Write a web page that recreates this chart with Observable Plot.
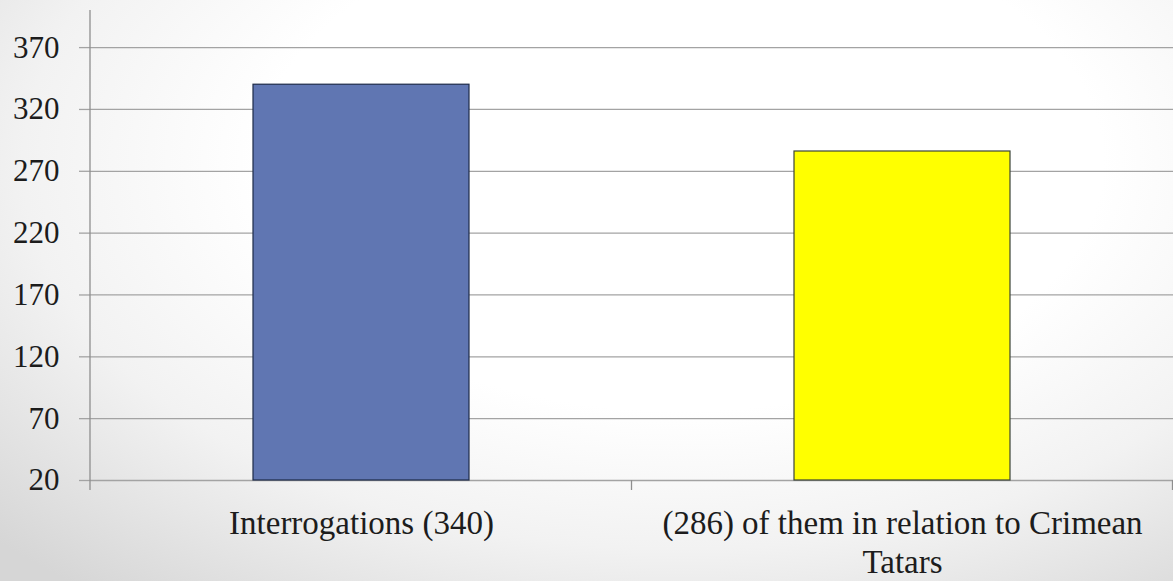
<!DOCTYPE html>
<html>
<head>
<meta charset="utf-8">
<script src="https://cdn.jsdelivr.net/npm/d3@7"></script>
<script src="https://cdn.jsdelivr.net/npm/@observablehq/plot@0.6"></script>
<style>
  html, body { margin: 0; padding: 0; }
  body {
    width: 1173px;
    height: 581px;
    overflow: hidden;
    background: radial-gradient(ellipse 80% 95% at 58% 28%, #ffffff 45%, #f2f2f2 70%, #d6d6d6 100%);
  }
  #chart svg { display: block; }
</style>
</head>
<body>
<div id="chart"></div>
<script>
// Counts shown as bars
const categories = ["Interrogations (340)", "(286) of them in relation to Crimean Tatars"];
const values = [340, 286];
const barFills = ["#6076b2", "#ffff00"];
const barStrokes = ["#1d2a48", "#3b4438"];
const xTickLabels = ["Interrogations (340)", "(286) of them in relation to Crimean\nTatars"];
const yTicks = [20, 70, 120, 170, 220, 270, 320, 370];
const yBase = 20;
const yMax = 400;

const data = categories.map((c, i) => ({category: c, value: values[i], fill: barFills[i], stroke: barStrokes[i]}));

const gridColor = "#a3a3a3";
const axisColor = "#8e8e8e";
const textColor = "#1c1c1c";

const plot = Plot.plot({
  width: 1173,
  height: 581,
  marginLeft: 90,
  marginRight: 0,
  marginTop: 10,
  marginBottom: 101,
  style: {fontFamily: "'Liberation Serif', serif", background: "transparent", color: textColor},
  x: {domain: categories, paddingInner: 0.6, paddingOuter: 0.3, label: null},
  y: {domain: [yBase, yMax], label: null},
  marks: [
    Plot.gridY(yTicks, {stroke: gridColor, strokeOpacity: 1, strokeWidth: 1.3}),
    Plot.axisY(yTicks, {
      tickSize: 11, tickPadding: 20, fontSize: 31, stroke: gridColor, strokeWidth: 1.3,
      fill: textColor, label: null, tickFormat: d => String(d)
    }),
    Plot.barY(data, {
      x: "category", y1: yBase, y2: "value",
      fill: d => d.fill, stroke: d => d.stroke, strokeWidth: 1.2
    }),
    Plot.axisX({
      tickSize: 0, tickPadding: 25, fontSize: 33, lineHeight: 1.2, fill: textColor, label: null,
      tickFormat: d => xTickLabels[categories.indexOf(d)]
    })
  ]
});

document.getElementById("chart").append(plot);

// Vertical axis line and the category separator ticks below the baseline
const xs = plot.scale("x");
const ys = plot.scale("y");
const n = categories.length;
const [r0, r1] = xs.range;
const step = xs.step ?? (r1 - r0) / (n - xs.paddingInner + 2 * xs.paddingOuter);
const bw = xs.bandwidth ?? step * (1 - xs.paddingInner);
const gap = (step - bw) / 2;
const bounds = categories.map(c => xs.apply(c) - gap).concat([xs.apply(categories[n - 1]) + bw + gap]);
const yTop = ys.apply(yMax);
const yBottom = ys.apply(yBase);
const g = d3.select(plot).append("g").attr("stroke", axisColor).attr("stroke-width", 1.3);
g.append("line")
  .attr("x1", r0).attr("x2", r0)
  .attr("y1", yTop).attr("y2", yBottom + 10);
g.selectAll("line.sep").data(bounds.slice(1)).join("line")
  .attr("class", "sep")
  .attr("x1", d => d).attr("x2", d => d)
  .attr("y1", yBottom).attr("y2", yBottom + 10);
</script>
</body>
</html>
